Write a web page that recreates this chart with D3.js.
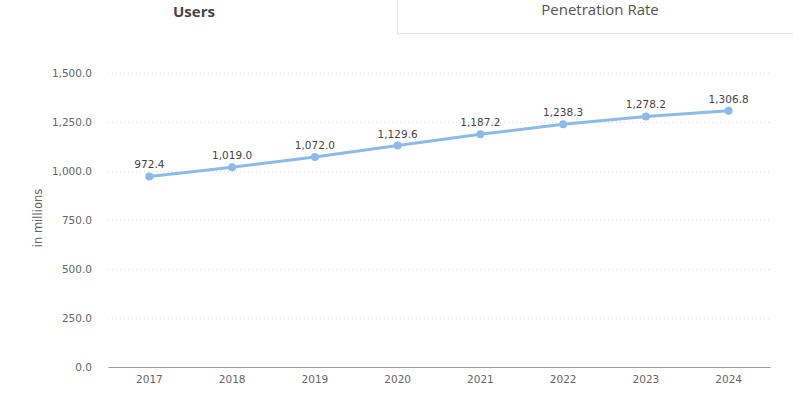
<html>
<head>
<meta charset="utf-8" />
<script src="https://d3js.org/d3.v7.min.js"></script>
<style>
  body { margin: 0; background: #fff; }
  .tab { font-family: "Open Sans", sans-serif; }
  .tick text { font-family: "DejaVu Sans", sans-serif; font-size: 10.5px; fill: #666; }
</style>
</head>
<body>
<script>
var years = ["2017", "2018", "2019", "2020", "2021", "2022", "2023", "2024"];
var users = [972.4, 1019.0, 1072.0, 1129.6, 1187.2, 1238.3, 1278.2, 1306.8];
var yTicks = [0, 250, 500, 750, 1000, 1250, 1500];

var width = 793, height = 395;
var margin = {top: 73, right: 23, bottom: 28, left: 108};

var svg = d3.select("body").append("svg")
    .attr("width", width)
    .attr("height", height);

// tabs
svg.append("path")
    .attr("d", "M397.5,0 V33.5 H793")
    .attr("fill", "none")
    .attr("stroke", "#e3e3e3");
svg.append("text").attr("class", "tab")
    .attr("x", 194).attr("y", 17)
    .attr("text-anchor", "middle")
    .style("font-size", "15px").style("font-weight", "bold").style("fill", "#444")
    .text("Users");
svg.append("text").attr("class", "tab")
    .attr("x", 600).attr("y", 15)
    .attr("text-anchor", "middle")
    .style("font-size", "15px").style("fill", "#555")
    .text("Penetration Rate");

var x = d3.scaleBand().domain(years).range([margin.left, width - margin.right]);
var y = d3.scaleLinear().domain([0, 1500]).range([height - margin.bottom, margin.top]);

// grid
svg.append("g").selectAll("line")
    .data(yTicks.filter(function(d) { return d > 0; }))
    .enter().append("line")
    .attr("x1", margin.left).attr("x2", width - margin.right)
    .attr("y1", function(d) { return Math.round(y(d)) + 0.5; })
    .attr("y2", function(d) { return Math.round(y(d)) + 0.5; })
    .attr("stroke", "#d8d8d8")
    .attr("stroke-dasharray", "1,3");

// y axis
var yAxis = svg.append("g")
    .attr("transform", "translate(" + (margin.left - 16) + ",0)")
    .call(d3.axisLeft(y).tickValues(yTicks).tickSize(0).tickPadding(0)
      .tickFormat(function(d) { return d3.format(",.1f")(d); }));
yAxis.select(".domain").remove();
yAxis.selectAll("text").attr("dy", "0.35em");

// x axis
var xAxis = svg.append("g")
    .attr("transform", "translate(0," + (height - margin.bottom) + ")")
    .call(d3.axisBottom(x).tickSize(0).tickPadding(9));
xAxis.select(".domain").attr("stroke", "#999").attr("stroke-width", 1);

svg.append("text")
    .attr("transform", "translate(42,218)rotate(-90)")
    .attr("text-anchor", "middle")
    .style("font-family", "DejaVu Sans, sans-serif")
    .style("font-size", "11.5px")
    .style("fill", "#666")
    .text("in millions");

var cx = function(d, i) { return x(years[i]) + x.bandwidth() / 2; };

var line = d3.line()
    .x(function(d, i) { return cx(d, i); })
    .y(function(d) { return y(d); });

svg.append("path")
    .datum(users)
    .attr("d", line)
    .attr("fill", "none")
    .attr("stroke", "#8cbbe9")
    .attr("stroke-width", 3);

svg.append("g").selectAll("circle")
    .data(users)
    .enter().append("circle")
    .attr("cx", cx)
    .attr("cy", function(d) { return y(d); })
    .attr("r", 4)
    .attr("fill", "#8cbbe9");

svg.append("g").selectAll("text")
    .data(users)
    .enter().append("text")
    .attr("x", cx)
    .attr("y", function(d) { return y(d) - 8; })
    .attr("text-anchor", "middle")
    .style("font-family", "DejaVu Sans, sans-serif")
    .style("font-size", "10.5px")
    .style("fill", "#444")
    .text(function(d) { return d3.format(",.1f")(d); });
</script>
</body>
</html>
